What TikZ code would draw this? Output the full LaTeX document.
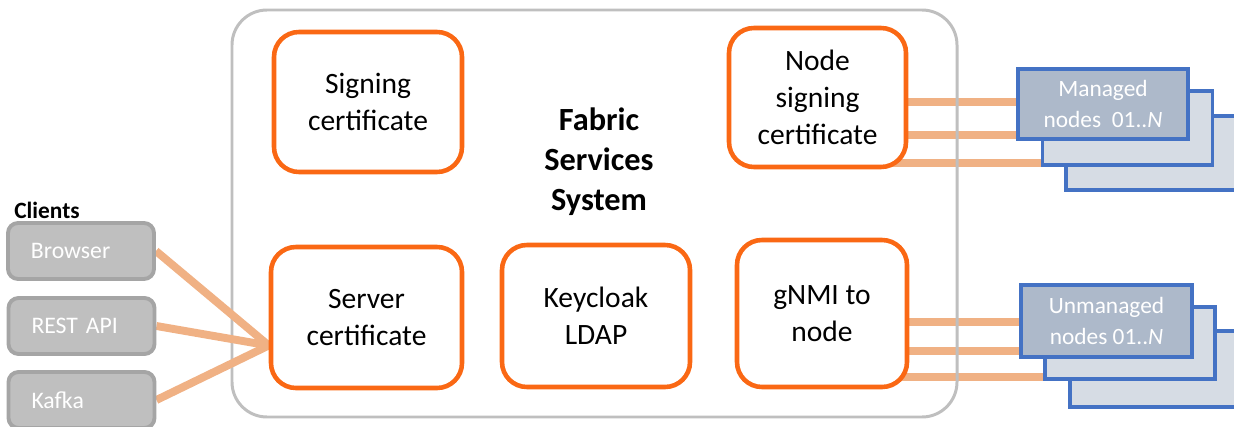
\documentclass[tikz,border=0pt]{standalone}
\usepackage{fontspec}
\setmainfont{Carlito}
\usetikzlibrary{calc}
\newdimen\pxu \pxu=0.02cm
\definecolor{orng}{RGB}{250,104,20}
\definecolor{lnk}{RGB}{240,177,132}
\definecolor{contgray}{RGB}{191,191,191}
\definecolor{clfill}{RGB}{191,191,191}
\definecolor{cldraw}{RGB}{165,165,165}
\definecolor{nblue}{RGB}{68,114,196}
\definecolor{nfront}{RGB}{173,185,202}
\definecolor{nback}{RGB}{214,220,228}
\pgfdeclarelayer{lyrA}\pgfdeclarelayer{lyrB}\pgfdeclarelayer{lyrC}
\pgfsetlayers{lyrA,lyrB,lyrC,main}
\begin{document}
\begin{tikzpicture}[x=1\pxu,y=-1\pxu,
 svc/.style={draw=orng,line width=2.6pt,fill=white,rounded corners=0.5cm,align=center,font=\fontsize{16.8}{21}\selectfont,inner sep=0pt},
 client/.style={draw=cldraw,fill=clfill,line width=2.2pt,rounded corners=0.2cm,text=white,font=\fontsize{13.5}{16}\selectfont,minimum height=56\pxu,inner ysep=0pt,inner xsep=23\pxu,text width=100\pxu,align=left},
 nodebox/.style={draw=nblue,line width=2pt,minimum width=170\pxu,inner sep=0pt},
 frontbox/.style={nodebox,fill=nfront,text=white,align=center,font=\fontsize{13.3}{17.6}\selectfont},
 backbox/.style={nodebox,fill=nback},
 link/.style={draw=lnk,line width=4.5pt}]
\useasboundingbox (0,0) rectangle (1234,426);

% service boxes
\node[svc,minimum width=188\pxu,minimum height=140\pxu] (sign) at (368,102) {Signing\\certificate};
\node[svc,minimum width=177\pxu,minimum height=139\pxu] (nsc) at (817.5,97.5) {Node\\signing\\certificate};
\node[svc,minimum width=191\pxu,minimum height=141\pxu] (server) at (366.5,317.5) {Server\\certificate};
\node[svc,minimum width=188\pxu,minimum height=142\pxu] (key) at (596,316) {Keycloak\\LDAP};
\node[svc,minimum width=170\pxu,minimum height=147\pxu] (gnmi) at (822,313.5) {gNMI to\\node};

\node[font=\bfseries\fontsize{18.4}{22.7}\selectfont,align=center] (fss) at (599,162) {Fabric\\Services\\System};

% clients
\node[font=\bfseries\fontsize{13.3}{15}\selectfont,anchor=west,inner sep=0pt] (clients) at (14,210) {Clients};
\node[client] (browser) at (81,251) {Browser};
\node[client] (rest) at (81.5,326) {REST API};
\node[client] (kafka) at (81.5,400) {Kafka};

% managed nodes stack
\node[backbox,minimum height=74\pxu] (mC) at (1151,153) {};
\node[backbox,minimum height=74\pxu] (mB) at (1127.5,128) {};
\node[frontbox,minimum height=70\pxu] (mA) at (1103,104) {Managed\\nodes~~01..\textit{N}};

% unmanaged nodes stack
\node[backbox,minimum height=76\pxu] (uC) at (1155,369) {};
\node[backbox,minimum height=72\pxu] (uB) at (1130,343) {};
\node[frontbox,minimum height=72\pxu,minimum width=171\pxu] (uA) at (1106.5,321) {Unmanaged\\nodes 01..\textit{N}};

\coordinate (conv) at ($(server.west)+(0,28)$);

\begin{pgfonlayer}{lyrA}
\draw[link] (nsc.center |- 0,102) -- (mA.center |- 0,102);
\draw[link] (nsc.center |- 0,135) -- (mB.center |- 0,135);
\draw[link] (nsc.center |- 0,163) -- (mC.center |- 0,163);
\draw[link] (gnmi.center |- 0,322) -- (uA.center |- 0,322);
\draw[link] (gnmi.center |- 0,351) -- (uB.center |- 0,351);
\draw[link] (gnmi.center |- 0,377) -- (uC.center |- 0,377);
\end{pgfonlayer}
\begin{pgfonlayer}{lyrB}
\draw[contgray,line width=1.7pt,rounded corners=0.7cm] (232,10) rectangle (957,417);
\end{pgfonlayer}
\begin{pgfonlayer}{lyrC}
\draw[link] (browser.east) -- (conv);
\draw[link] (rest.east) -- (conv);
\draw[link] (kafka.east) -- (conv);
\end{pgfonlayer}
\end{tikzpicture}
\end{document}
